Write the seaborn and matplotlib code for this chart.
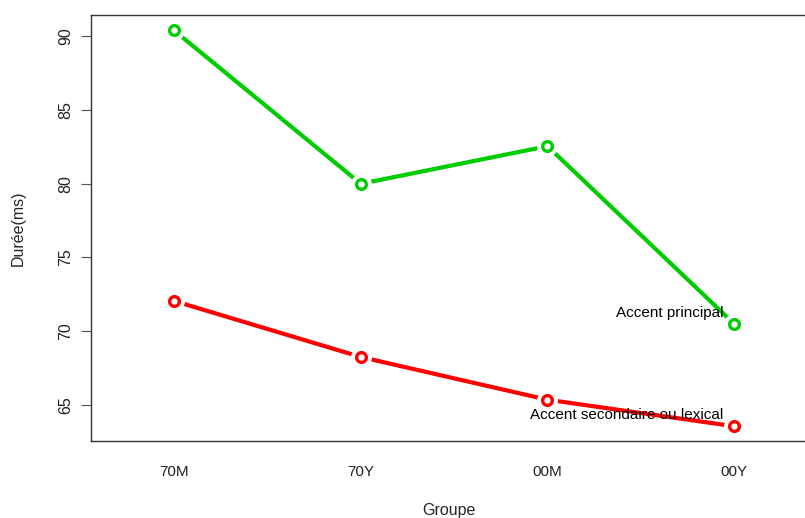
import pandas as pd
import matplotlib
matplotlib.use("Agg")
import matplotlib.pyplot as plt
import seaborn as sns

sns.set_theme(style="white")
plt.rcParams['font.family'] = ['Liberation Sans', 'DejaVu Sans']

# data
groupes = ["70M", "70Y", "00M", "00Y"]
principal = [90.4, 80.0, 82.55, 70.5]
secondaire = [72.05, 68.25, 65.35, 63.55]
series_names = ["Accent principal", "Accent secondaire ou lexical"]
colors = {"Accent principal": "#00CD00", "Accent secondaire ou lexical": "#FF0000"}

df = pd.DataFrame({
    "pos": list(range(1, 5)) * 2,
    "Groupe": groupes * 2,
    "duree": principal + secondaire,
    "accent": [series_names[0]] * 4 + [series_names[1]] * 4,
})

fig = plt.figure(figsize=(8.05, 5.18), dpi=100)
ax = fig.add_axes([91 / 805, 77 / 518, 716 / 805, 426 / 518])

sns.lineplot(data=df, x="pos", y="duree", hue="accent", palette=colors,
             linewidth=3, legend=False, ax=ax, zorder=2)

# R type="b": gap around the open circles
for name, grp in df.groupby("accent"):
    ax.plot(grp["pos"], grp["duree"], linestyle="none", marker="o",
            markersize=14, markerfacecolor="white", markeredgecolor="white", zorder=3)
    ax.plot(grp["pos"], grp["duree"], linestyle="none", marker="o",
            markersize=7, markerfacecolor="white", markeredgecolor=colors[name],
            markeredgewidth=2.4, zorder=4)
    last = grp.iloc[-1]
    ax.annotate(name, xy=(last["pos"], last["duree"]), xytext=(-11, 11),
                textcoords="offset pixels", ha="right", va="center", fontsize=11,
                color="black", zorder=5)

ax.set_xlim(0.555, 4.39)
ax.set_ylim(62.55, 91.45)
ax.set_xticks(range(1, 5))
ax.set_xticklabels(groupes)
ax.set_yticks([65, 70, 75, 80, 85, 90])
for lab in ax.get_yticklabels():
    lab.set_rotation(90)
    lab.set_va("center")
ax.tick_params(axis="x", length=0, pad=17, labelsize=11, colors="#222222")
ax.tick_params(axis="y", left=True, length=7, width=0.8, pad=6, labelsize=11.5,
               colors="#222222", color="#555555")

ax.set_xlabel("Groupe", fontsize=11.5, va="center")
ax.set_ylabel("Durée(ms)", fontsize=11.5, va="center")
ax.xaxis.set_label_coords(0.5, (441 - 510) / 426)
ax.yaxis.set_label_coords((18 - 91) / 716, 0.5)

for s in ax.spines.values():
    s.set_color("#333333")
    s.set_linewidth(1.0)

fig.savefig("out.png", dpi=100)
